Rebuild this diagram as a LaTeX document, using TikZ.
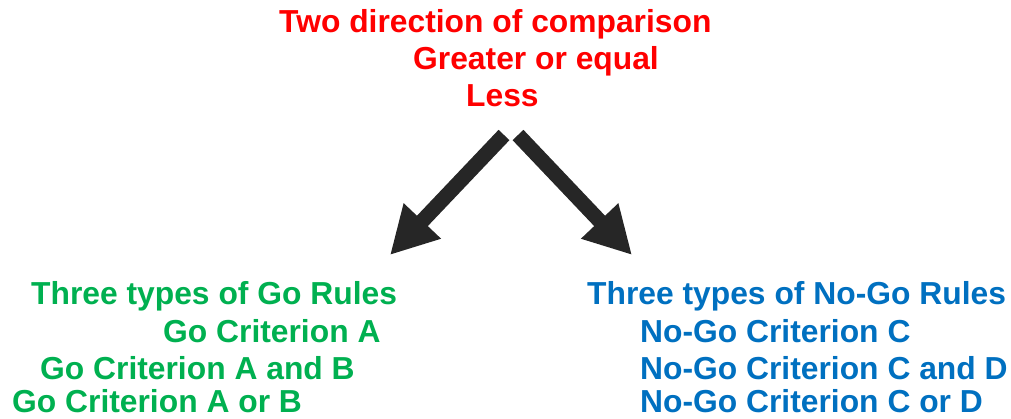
\documentclass[tikz,border=0pt]{standalone}
\usepackage{fontspec}
\setmainfont{Liberation Sans}
\usetikzlibrary{arrows.meta}
\definecolor{cred}{HTML}{FF0000}
\definecolor{cgreen}{HTML}{00B050}
\definecolor{cblue}{HTML}{0070C0}
\definecolor{carrow}{HTML}{262626}
\begin{document}
\begin{tikzpicture}[x=1pt,y=-1pt,
  lbl/.style={anchor=base west,inner sep=0pt,font=\fontsize{31.8}{38}\selectfont\bfseries},
  bigarrow/.style={draw=carrow,line width=15pt,line cap=butt,-{Triangle[width=48pt,length=47pt]}}]
\useasboundingbox (0,0) rectangle (1011,419);
\node[lbl,text=cred] (t1) at (279,33) {Two direction of comparison};
\node[lbl,text=cred] (t2) at (413,70) {Greater or equal};
\node[lbl,text=cred] (t3) at (466,107) {Less};
\node[lbl,text=cgreen] (g1) at (31,305) {Three types of Go Rules};
\node[lbl,text=cgreen] (g2) at (163,342) {Go Criterion A};
\node[lbl,text=cgreen] (g3) at (40,379) {Go Criterion A and B};
\node[lbl,text=cgreen] (g4) at (12,412) {Go Criterion A or B};
\node[lbl,text=cblue] (b1) at (587,305) {Three types of No-Go Rules};
\node[lbl,text=cblue] (b2) at (640,342) {No-Go Criterion C};
\node[lbl,text=cblue] (b3) at (640,379) {No-Go Criterion C and D};
\node[lbl,text=cblue] (b4) at (640,412) {No-Go Criterion C or D};
\coordinate (lt) at (504,135);
\coordinate (lh) at (390,255);
\coordinate (rt) at (518,135);
\coordinate (rh) at (632,255);
\draw[bigarrow] (lt) -- (lh);
\draw[bigarrow] (rt) -- (rh);
\end{tikzpicture}
\end{document}
